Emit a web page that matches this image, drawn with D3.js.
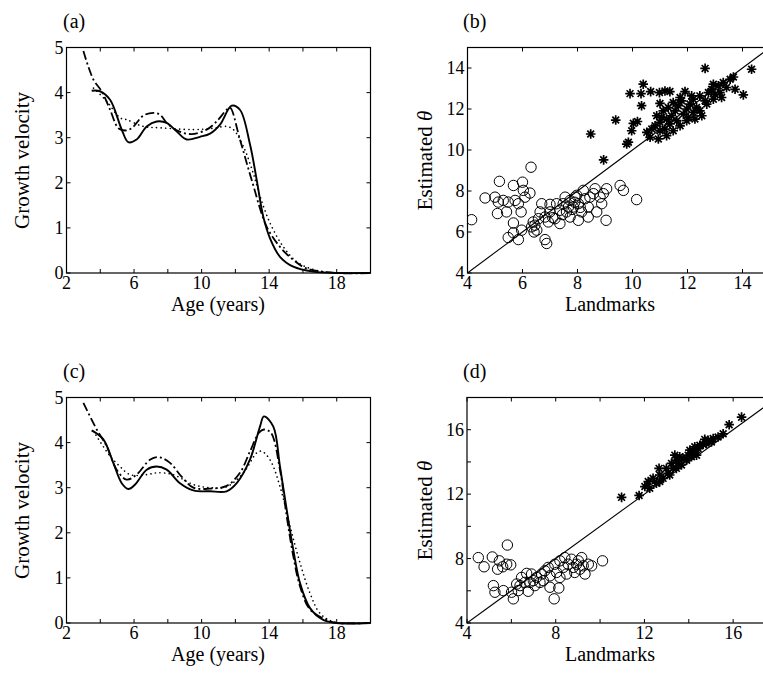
<!DOCTYPE html>
<html><head><meta charset="utf-8">
<script src="https://cdn.jsdelivr.net/npm/d3@7"></script>
<style>body{margin:0;background:#fff}svg{display:block}text{font-family:"Liberation Serif","Times New Roman",serif;fill:#000}</style>
</head><body><svg id="c" width="763" height="677"></svg>
<script>
// ---------- data ----------
const ageTicks = [4,6,8,10,12,14,16,18];
const ageLabels = [2,6,10,14,18];
const velTicks = [0,1,2,3,4,5];
// panel (a)
const aSolid = [[3.49,4.04],[3.98,4.03],[4.58,3.84],[5.27,3.18],[5.66,2.9],[6.15,2.96],[6.75,3.25],[7.34,3.36],[7.93,3.33],[8.52,3.14],[9.12,2.96],[9.9,3.02],[10.5,3.09],[11.09,3.29],[11.78,3.71],[12.27,3.62],[12.86,2.86],[13.26,2.07],[13.65,1.25],[14.05,0.77],[14.64,0.36],[15.43,0.14],[16.6,0.03],[18,0.0],[20,0.0]];
const aDash = [[3.0,4.92],[3.59,4.29],[4.08,4.03],[4.58,3.62],[5.07,3.21],[5.46,3.16],[5.86,3.21],[6.55,3.49],[7.14,3.55],[7.54,3.51],[7.93,3.33],[8.6,3.15],[9.4,3.08],[10.3,3.18],[10.89,3.36],[11.48,3.62],[11.68,3.67],[12.27,2.96],[12.96,2.07],[13.85,1.03],[14.64,0.58],[15.43,0.29],[16.22,0.1],[18,0.0],[20,0.0]];
const aDot = [[3.6,4.1],[4.4,3.8],[5.17,3.44],[5.56,3.4],[6.55,3.25],[7.54,3.22],[9.51,3.18],[10.7,3.21],[11.48,3.25],[11.88,3.18],[12.47,2.81],[13.06,2.21],[13.46,1.7],[14.05,1.11],[14.84,0.58],[15.63,0.25],[16.6,0.08],[18,0.0],[20,0.0]];
// panel (c)
const cSolid = [[3.49,4.27],[4.18,4.07],[4.77,3.55],[5.27,3.1],[5.66,2.97],[6.06,3.07],[6.75,3.4],[7.34,3.47],[7.93,3.4],[8.72,3.1],[9.51,2.94],[10.5,2.92],[11.48,2.92],[12.08,3.1],[12.86,3.62],[13.46,4.36],[13.69,4.58],[14.24,4.36],[14.64,3.47],[15.04,2.51],[15.43,1.62],[15.83,0.88],[16.42,0.33],[17.2,0.07],[18,0.0],[20,0.0]];
const cDash = [[3.0,4.88],[3.79,4.29],[4.38,3.92],[4.97,3.4],[5.56,3.18],[6.15,3.29],[6.94,3.62],[7.44,3.68],[8.13,3.55],[8.8,3.25],[9.51,3.0],[10.5,2.98],[11.48,3.04],[12.27,3.33],[12.86,3.8],[13.4,4.22],[13.69,4.29],[14.1,4.22],[14.64,3.4],[15.04,2.36],[15.43,1.48],[15.83,0.81],[16.42,0.3],[17.5,0.05],[18,0.0],[20,0.0]];
const cDot = [[3.6,4.25],[4.58,3.7],[5.17,3.47],[5.76,3.29],[6.75,3.29],[7.36,3.33],[8.3,3.29],[9.51,3.07],[10.5,3.0],[11.48,3.02],[12.47,3.33],[13.26,3.77],[13.55,3.81],[14.05,3.62],[14.64,3.03],[15.24,2.14],[15.83,1.33],[16.42,0.66],[17.0,0.22],[17.8,0.03],[20,0.0]];
// panel (b)
const bTicks = [4,6,8,10,12,14];
const bCircles = [[4.15,6.6],[4.64,7.66],[5.16,8.47],[5.0,7.7],[5.12,7.46],[5.3,7.54],[5.48,7.46],[5.09,6.9],[5.42,6.98],[5.67,8.27],[5.73,7.54],[5.85,7.38],[5.95,6.98],[6.0,8.43],[6.03,8.03],[6.09,7.7],[6.27,7.9],[6.31,9.16],[5.67,6.44],[5.67,5.96],[5.48,5.73],[5.85,5.63],[5.97,6.09],[6.42,6.0],[6.45,6.33],[6.58,6.65],[6.7,7.38],[7.0,7.35],[6.82,5.63],[6.88,5.44],[6.64,6.98],[6.82,6.73],[6.94,6.49],[7.18,6.65],[7.36,6.41],[7.0,6.98],[7.36,7.06],[7.48,7.38],[7.6,6.98],[7.73,7.54],[7.85,7.22],[7.91,7.7],[8.03,7.38],[7.73,6.73],[8.03,6.57],[8.15,6.98],[8.27,7.62],[8.39,7.22],[8.45,7.7],[8.58,7.87],[8.39,6.73],[8.7,6.98],[8.64,8.11],[8.82,7.7],[8.94,7.87],[9.06,8.11],[8.88,7.38],[9.04,6.57],[9.55,8.27],[9.67,8.03],[10.15,7.58],[7.55,7.7],[7.67,7.22],[7.97,7.79],[6.39,6.49],[6.52,6.09],[6.33,6.25],[7.24,7.38],[8.21,8.03],[7.8,7.1],[7.9,7.45],[8.1,7.2],[7.45,6.85],[7.1,6.7]];
const bStars = [[8.95,9.52],[8.48,10.78],[9.39,11.46],[9.79,10.29],[9.85,10.38],[9.97,10.94],[10.03,11.3],[10.18,11.39],[9.91,12.75],[10.31,12.75],[10.39,13.21],[10.33,12.16],[10.66,12.85],[10.98,12.8],[11.18,12.88],[11.36,12.85],[11.91,12.85],[11.0,12.27],[12.64,13.98],[13.67,13.56],[13.73,12.96],[14.03,12.69],[14.33,13.94],[10.94,10.54],[10.52,10.86],[10.7,11.02],[10.82,11.18],[11.0,11.35],[10.88,11.67],[11.12,11.91],[11.24,11.51],[11.42,11.67],[11.55,11.91],[11.67,12.16],[11.79,12.4],[11.61,11.43],[11.85,11.75],[11.97,12.0],[12.09,12.24],[12.21,12.48],[12.33,12.07],[12.45,12.64],[12.64,12.4],[12.76,12.8],[12.88,12.96],[13.0,12.72],[13.12,13.13],[13.3,13.29],[13.42,13.05],[13.55,13.45],[11.36,11.27],[11.73,11.18],[12.03,11.59],[12.21,11.83],[12.45,11.91],[12.7,12.24],[12.94,12.48],[13.18,12.8],[11.18,11.02],[11.48,10.94],[10.64,10.62],[11.0,10.94],[11.24,10.7],[11.97,11.43],[12.27,11.51],[12.52,11.67],[12.15,12.64],[11.73,12.56],[11.48,12.32],[11.3,12.07],[12.94,13.21],[13.24,12.56],[11.06,11.59]];
// panel (d)
const dTicks = [4,6,8,10,12,14,16,18];
const dLabels = [4,8,12,16];
const dCircles = [[4.51,8.06],[4.77,7.49],[5.14,8.1],[5.46,7.86],[5.38,7.34],[5.61,7.49],[5.79,7.65],[5.97,7.61],[5.82,8.84],[5.19,6.32],[5.26,5.91],[5.64,6.01],[6.01,5.91],[6.09,5.5],[6.24,6.42],[6.31,6.01],[6.46,6.83],[6.69,7.08],[6.84,6.52],[6.76,5.97],[7.06,6.32],[7.14,6.83],[7.36,7.04],[7.44,6.63],[7.66,7.45],[7.74,6.93],[7.96,7.65],[8.04,7.14],[7.74,6.22],[8.14,6.17],[7.93,5.5],[8.19,7.86],[8.34,7.45],[8.41,8.06],[8.56,7.65],[8.71,7.96],[8.79,7.45],[8.86,7.14],[9.02,7.86],[9.17,8.06],[9.24,7.55],[9.32,7.04],[9.47,7.65],[9.62,7.55],[10.11,7.86],[7.29,6.52],[7.51,7.24],[6.99,6.63],[6.61,6.52],[6.39,6.32],[6.91,7.04],[8.49,7.04],[8.19,6.83],[8.94,7.65],[9.09,7.34]];
const dStars = [[10.97,11.8],[11.76,11.92],[12.02,12.47],[12.17,12.78],[12.39,12.98],[12.66,13.6],[12.54,12.68],[12.84,12.98],[13.07,13.29],[13.29,13.6],[13.37,14.42],[13.52,13.91],[13.74,14.22],[13.97,14.42],[14.2,14.63],[14.42,14.83],[14.65,15.08],[14.87,15.34],[15.1,15.45],[15.32,15.55],[15.55,15.75],[15.82,16.31],[16.38,16.78],[12.69,13.19],[12.99,13.6],[13.22,13.91],[13.44,13.6],[13.67,13.81],[13.9,14.11],[14.12,14.32],[14.27,14.94],[14.5,15.04],[14.8,15.14],[15.02,15.24],[12.24,12.37],[12.69,12.78],[13.59,14.32],[14.05,14.73],[14.35,14.42],[14.72,15.4],[13.44,14.11],[13.14,13.19]];

// ---------- drawing ----------
const svg = d3.select("#c");
const FS = 18;

function frame(g, x, y, xt, xl, yt, yl) {
  const [x0,x1] = x.range(), [y0,y1] = y.range();
  g.append("rect").attr("x",x0).attr("y",y1).attr("width",x1-x0).attr("height",y0-y1)
    .attr("fill","none").attr("stroke","#000").attr("stroke-width",1.2);
  const tl = 4;
  xt.forEach(t=>{
    g.append("line").attr("x1",x(t)).attr("x2",x(t)).attr("y1",y0).attr("y2",y0-tl).attr("stroke","#000");
    g.append("line").attr("x1",x(t)).attr("x2",x(t)).attr("y1",y1).attr("y2",y1+tl).attr("stroke","#000");
  });
  yt.forEach(t=>{
    g.append("line").attr("y1",y(t)).attr("y2",y(t)).attr("x1",x0).attr("x2",x0+tl).attr("stroke","#000");
    g.append("line").attr("y1",y(t)).attr("y2",y(t)).attr("x1",x1).attr("x2",x1-tl).attr("stroke","#000");
  });
  xl.forEach(t=>g.append("text").attr("x",x(t)).attr("y",y0+16).attr("text-anchor","middle").attr("font-size",FS).text(t));
  yl.forEach(t=>g.append("text").attr("x",x0-3).attr("y",y(t)+6).attr("text-anchor","end").attr("font-size",FS).text(t));
}

function curves(g, x, y, s, d, o) {
  const line = d3.line().x(p=>x(p[0])).y(p=>y(p[1])).curve(d3.curveCatmullRom.alpha(0.5));
  g.append("path").attr("d",line(o)).attr("fill","none").attr("stroke","#000").attr("stroke-width",1.6)
    .attr("stroke-dasharray","0.1,4.5").attr("stroke-linecap","round");
  g.append("path").attr("d",line(d)).attr("fill","none").attr("stroke","#000").attr("stroke-width",1.8)
    .attr("stroke-dasharray","9,3,2,3");
  g.append("path").attr("d",line(s)).attr("fill","none").attr("stroke","#000").attr("stroke-width",1.9);
}

function velocityPanel(top, label, s, d, o) {
  const g = svg.append("g");
  const x = d3.scaleLinear().domain([2,20]).range([66.5,370.5]);
  const y = d3.scaleLinear().domain([0,5]).range([top+225.5, top]);
  frame(g, x, y, ageTicks, ageLabels, velTicks, velTicks);
  curves(g, x, y, s, d, o);
  g.append("text").attr("x",63).attr("y",top-20).attr("font-size",20).text(label);
  g.append("text").attr("x",218).attr("y",top+225.5+38).attr("text-anchor","middle").attr("font-size",20).text("Age (years)");
  g.append("text").attr("transform",`translate(29,${top+113}) rotate(-90)`).attr("text-anchor","middle").attr("font-size",21).text("Growth velocity");
}

function starPath(r){
  let p="";
  for(let i=0;i<4;i++){const a=i*Math.PI/4;p+=`M${-r*Math.cos(a)},${-r*Math.sin(a)}L${r*Math.cos(a)},${r*Math.sin(a)}`;}
  return p;
}

function scatterPanel(top, label, x, y, xt, xl, yt, yl, circ, stars) {
  const g = svg.append("g");
  frame(g, x, y, xt, xl, yt, yl);
  const [x0,x1]=x.range(),[y0,y1]=y.range();
  const clipId = "clip"+label.replace(/\W/g,"");
  g.append("clipPath").attr("id",clipId).append("rect").attr("x",x0).attr("y",y1).attr("width",x1-x0).attr("height",y0-y1);
  const inner = g.append("g").attr("clip-path",`url(#${clipId})`);
  const lo = Math.max(x.domain()[0],y.domain()[0]), hi = Math.min(x.domain()[1],y.domain()[1]);
  inner.append("line").attr("x1",x(lo)).attr("y1",y(lo)).attr("x2",x(hi)).attr("y2",y(hi)).attr("stroke","#000").attr("stroke-width",1.1);
  inner.selectAll("circle").data(circ).join("circle").attr("cx",p=>x(p[0])).attr("cy",p=>y(p[1])).attr("r",5.2)
    .attr("fill","none").attr("stroke","#000").attr("stroke-width",1);
  inner.selectAll("path.st").data(stars).join("path").attr("class","st").attr("transform",p=>`translate(${x(p[0])},${y(p[1])})`)
    .attr("d",starPath(4.8)).attr("stroke","#000").attr("stroke-width",1.7);
  g.append("text").attr("x",463).attr("y",top-20).attr("font-size",20).text(label);
  g.append("text").attr("x",610).attr("y",y0+38).attr("text-anchor","middle").attr("font-size",20).text("Landmarks");
  const t = g.append("text").attr("transform",`translate(432,${top+113}) rotate(-90)`).attr("text-anchor","middle").attr("font-size",21);
  t.append("tspan").text("Estimated ");
  t.append("tspan").attr("font-style","italic").text("θ");
}

velocityPanel(47.5, "(a)", aSolid, aDash, aDot);
velocityPanel(397.5, "(c)", cSolid, cDash, cDot);

const xb = d3.scaleLinear().domain([4,15]).range([467.5,770]);
const yb = d3.scaleLinear().domain([4,15]).range([273,47.5]);
scatterPanel(47.5, "(b)", xb, yb, bTicks, bTicks, bTicks, bTicks, bCircles, bStars);

const xd = d3.scaleLinear().domain([4,18]).range([467,777.5]);
const yd = d3.scaleLinear().domain([4,18]).range([623,397.5]);
scatterPanel(397.5, "(d)", xd, yd, dTicks, dLabels, dTicks, dLabels, dCircles, dStars);
</script></body></html>
